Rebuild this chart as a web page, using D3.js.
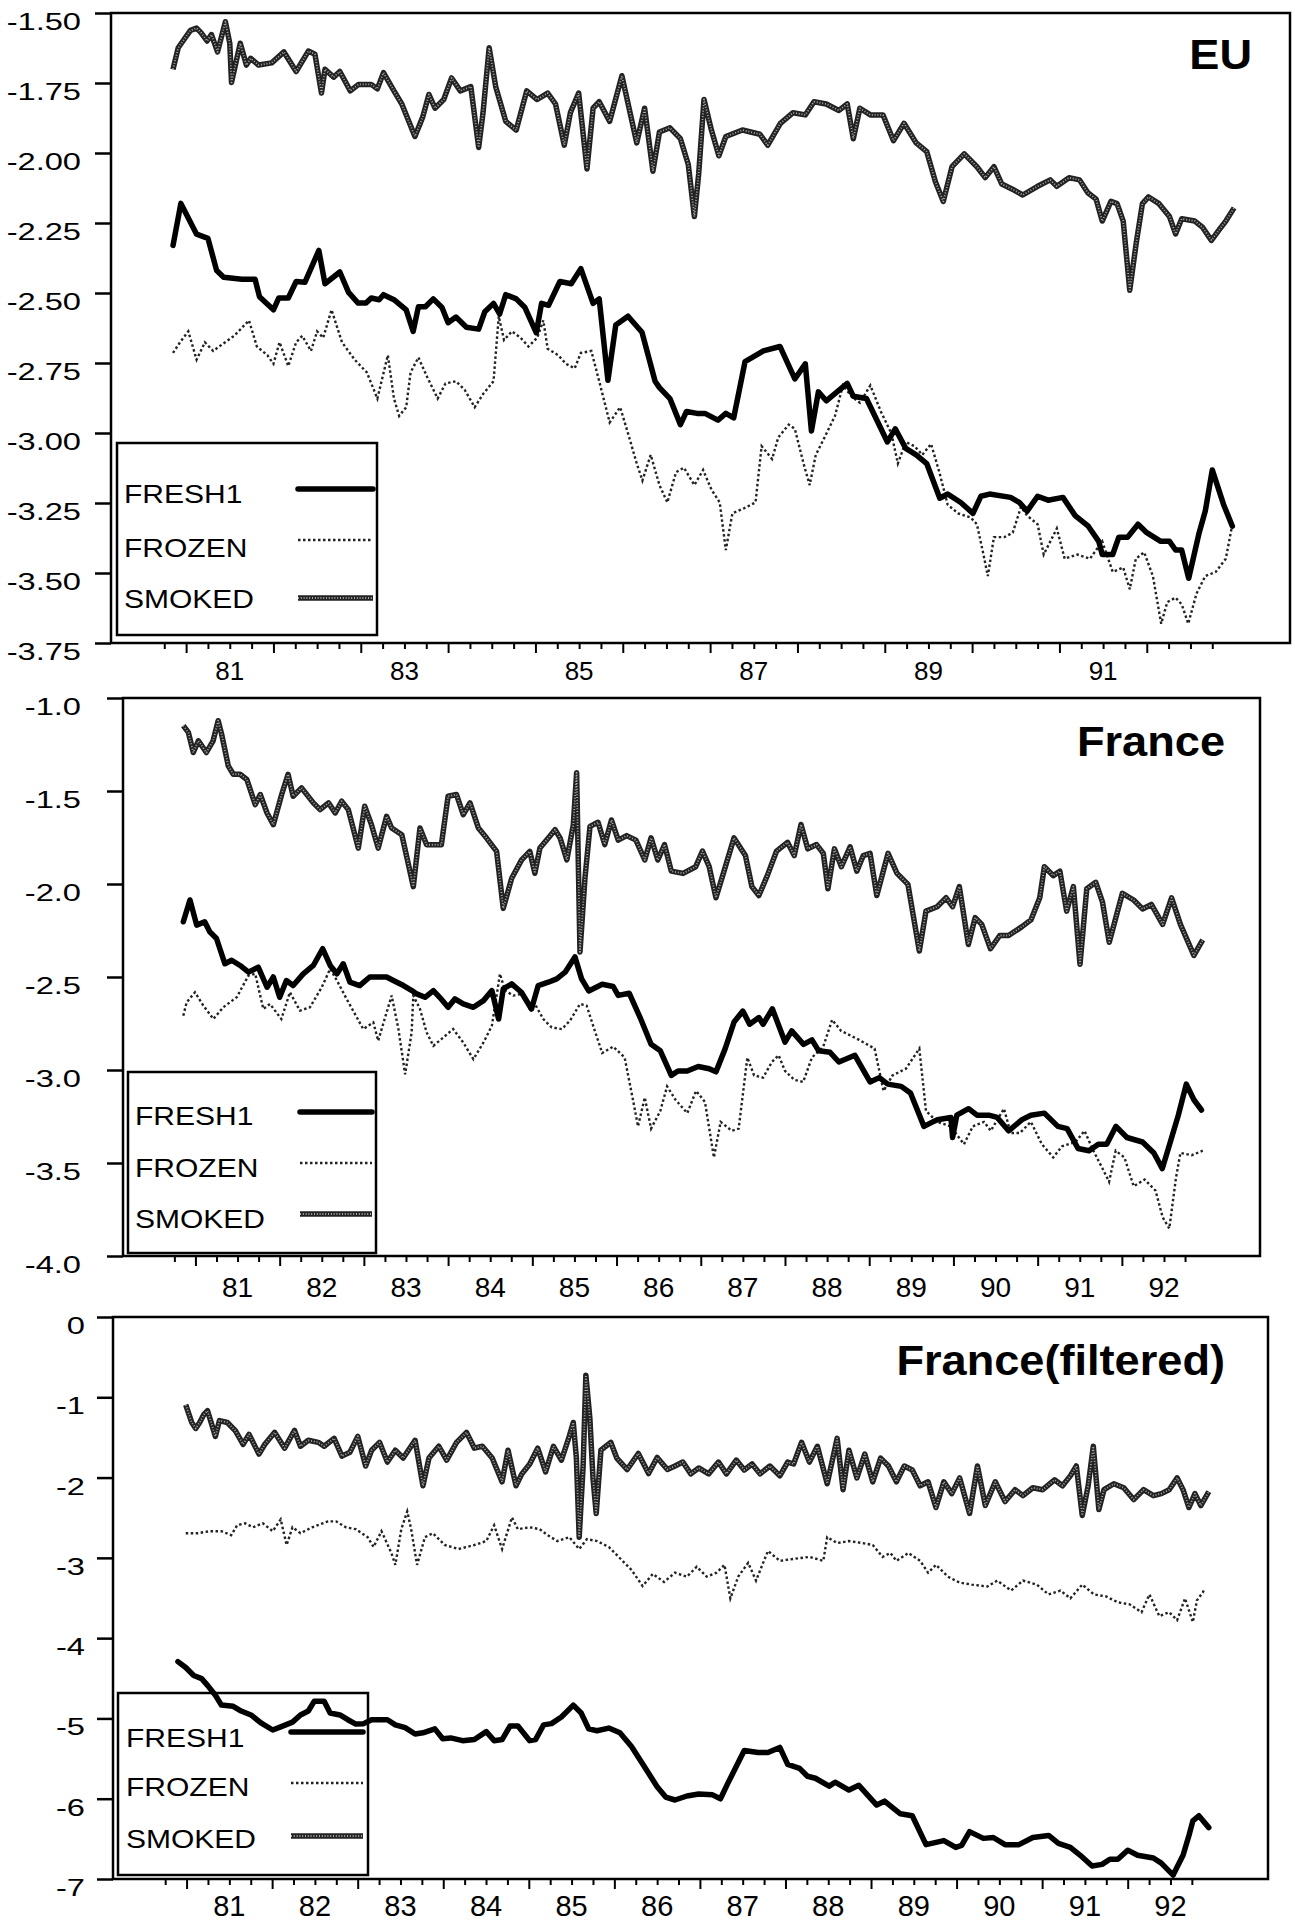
<!DOCTYPE html>
<html lang="en">
<head>
<meta charset="UTF-8">
<title>Fish price series</title>
<style>
  body { margin: 0; background: #fff; }
  svg { display: block; }
  text { font-family: "Liberation Sans", Arial, Helvetica, sans-serif; fill: #000; }
</style>
</head>
<body>
<div id="chart"></div>
<script src="https://d3js.org/d3.v7.min.js"></script>
<script>
// ---- data: [year (19xx), value] ----
const euFresh = [[80.85,-2.33],[80.94,-2.18],[81.12,-2.29],[81.25,-2.305],[81.35,-2.42],[81.43,-2.444],[81.64,-2.451],[81.79,-2.451],[81.84,-2.513],[82.0,-2.56],[82.06,-2.518],[82.17,-2.518],[82.26,-2.459],[82.36,-2.462],[82.52,-2.348],[82.59,-2.467],[82.76,-2.425],[82.86,-2.498],[82.97,-2.536],[83.06,-2.536],[83.12,-2.518],[83.21,-2.524],[83.26,-2.506],[83.38,-2.524],[83.52,-2.56],[83.6,-2.637],[83.66,-2.549],[83.74,-2.549],[83.83,-2.521],[83.93,-2.552],[84.0,-2.606],[84.09,-2.586],[84.21,-2.622],[84.35,-2.629],[84.42,-2.567],[84.52,-2.537],[84.59,-2.575],[84.66,-2.506],[84.78,-2.521],[84.88,-2.552],[85.01,-2.642],[85.07,-2.537],[85.15,-2.544],[85.28,-2.459],[85.41,-2.467],[85.52,-2.413],[85.66,-2.537],[85.73,-2.521],[85.83,-2.812],[85.92,-2.614],[86.06,-2.583],[86.22,-2.64],[86.37,-2.815],[86.42,-2.838],[86.54,-2.877],[86.66,-2.97],[86.73,-2.923],[86.85,-2.93],[86.94,-2.93],[87.09,-2.954],[87.18,-2.93],[87.27,-2.946],[87.4,-2.745],[87.61,-2.707],[87.8,-2.691],[87.97,-2.807],[88.09,-2.753],[88.16,-2.993],[88.24,-2.853],[88.33,-2.885],[88.57,-2.823],[88.64,-2.869],[88.79,-2.877],[89.03,-3.032],[89.12,-2.985],[89.24,-3.055],[89.36,-3.078],[89.48,-3.109],[89.63,-3.233],[89.72,-3.218],[89.87,-3.248],[90.01,-3.287],[90.1,-3.226],[90.2,-3.218],[90.44,-3.23],[90.54,-3.248],[90.63,-3.279],[90.75,-3.226],[90.87,-3.24],[91.04,-3.23],[91.18,-3.295],[91.33,-3.333],[91.45,-3.387],[91.49,-3.434],[91.61,-3.434],[91.68,-3.372],[91.78,-3.372],[91.9,-3.326],[92.0,-3.356],[92.16,-3.387],[92.26,-3.387],[92.33,-3.418],[92.4,-3.418],[92.48,-3.519],[92.6,-3.356],[92.67,-3.279],[92.75,-3.132],[92.88,-3.256],[92.98,-3.333]];

const euFrozen = [[80.85,-2.714],[80.93,-2.676],[81.025,-2.637],[81.12,-2.738],[81.215,-2.676],[81.31,-2.707],[81.38,-2.691],[81.55,-2.653],[81.72,-2.598],[81.81,-2.691],[81.93,-2.722],[82.0,-2.753],[82.07,-2.676],[82.17,-2.761],[82.26,-2.676],[82.33,-2.653],[82.43,-2.707],[82.5,-2.637],[82.57,-2.66],[82.665,-2.56],[82.785,-2.676],[82.93,-2.738],[83.07,-2.784],[83.19,-2.877],[83.31,-2.722],[83.38,-2.877],[83.44,-2.939],[83.52,-2.908],[83.57,-2.784],[83.66,-2.73],[83.76,-2.8],[83.88,-2.877],[83.97,-2.823],[84.09,-2.815],[84.19,-2.846],[84.305,-2.908],[84.4,-2.861],[84.52,-2.815],[84.58,-2.583],[84.64,-2.668],[84.73,-2.637],[84.83,-2.66],[84.92,-2.691],[85.02,-2.66],[85.09,-2.598],[85.14,-2.699],[85.26,-2.722],[85.35,-2.753],[85.45,-2.769],[85.52,-2.714],[85.64,-2.707],[85.73,-2.815],[85.85,-2.962],[85.97,-2.908],[86.06,-3.001],[86.16,-3.109],[86.225,-3.17],[86.32,-3.078],[86.42,-3.186],[86.51,-3.248],[86.61,-3.14],[86.7,-3.124],[86.82,-3.186],[86.92,-3.132],[87.015,-3.202],[87.11,-3.248],[87.18,-3.418],[87.255,-3.287],[87.375,-3.271],[87.52,-3.248],[87.59,-3.047],[87.71,-3.093],[87.78,-3.016],[87.9,-2.97],[87.97,-2.985],[88.07,-3.109],[88.14,-3.186],[88.21,-3.078],[88.31,-3.016],[88.43,-2.939],[88.52,-2.83],[88.62,-2.869],[88.715,-2.892],[88.835,-2.83],[88.955,-2.923],[89.075,-3.001],[89.15,-3.109],[89.24,-3.032],[89.34,-3.047],[89.43,-3.078],[89.53,-3.039],[89.625,-3.14],[89.72,-3.256],[89.84,-3.287],[89.985,-3.302],[90.055,-3.326],[90.13,-3.434],[90.18,-3.511],[90.25,-3.372],[90.37,-3.372],[90.465,-3.356],[90.56,-3.264],[90.63,-3.295],[90.75,-3.326],[90.82,-3.434],[90.97,-3.341],[91.06,-3.449],[91.205,-3.434],[91.35,-3.449],[91.49,-3.387],[91.61,-3.496],[91.73,-3.48],[91.805,-3.558],[91.875,-3.449],[91.97,-3.426],[92.07,-3.511],[92.165,-3.681],[92.235,-3.604],[92.33,-3.588],[92.4,-3.612],[92.475,-3.681],[92.57,-3.573],[92.67,-3.511],[92.79,-3.496],[92.905,-3.449],[92.98,-3.326]];

const euSmoked = [[80.85,-1.701],[80.91,-1.624],[80.98,-1.593],[81.05,-1.562],[81.12,-1.554],[81.17,-1.57],[81.24,-1.6],[81.29,-1.577],[81.36,-1.639],[81.45,-1.531],[81.5,-1.608],[81.52,-1.748],[81.62,-1.608],[81.69,-1.686],[81.74,-1.662],[81.83,-1.686],[81.98,-1.678],[82.12,-1.639],[82.26,-1.709],[82.4,-1.636],[82.475,-1.647],[82.55,-1.786],[82.59,-1.701],[82.69,-1.729],[82.76,-1.709],[82.88,-1.778],[82.975,-1.755],[83.12,-1.755],[83.19,-1.771],[83.26,-1.713],[83.38,-1.778],[83.47,-1.825],[83.62,-1.941],[83.71,-1.871],[83.78,-1.791],[83.85,-1.84],[83.95,-1.809],[84.04,-1.732],[84.14,-1.778],[84.26,-1.763],[84.35,-1.98],[84.4,-1.856],[84.47,-1.624],[84.545,-1.763],[84.66,-1.887],[84.78,-1.918],[84.9,-1.778],[85.02,-1.809],[85.14,-1.786],[85.23,-1.825],[85.33,-1.972],[85.4,-1.856],[85.495,-1.786],[85.59,-2.057],[85.66,-1.84],[85.73,-1.817],[85.85,-1.887],[85.99,-1.724],[86.16,-1.964],[86.25,-1.84],[86.345,-2.065],[86.42,-1.925],[86.54,-1.91],[86.66,-1.949],[86.75,-2.041],[86.82,-2.227],[86.87,-2.072],[86.93,-1.809],[87.015,-1.918],[87.1,-2.01],[87.18,-1.941],[87.37,-1.918],[87.57,-1.933],[87.66,-1.972],[87.805,-1.894],[87.95,-1.856],[88.09,-1.864],[88.19,-1.817],[88.33,-1.825],[88.475,-1.848],[88.57,-1.825],[88.64,-1.949],[88.715,-1.84],[88.835,-1.864],[88.98,-1.864],[89.1,-1.956],[89.22,-1.894],[89.36,-1.964],[89.48,-1.995],[89.58,-2.103],[89.67,-2.173],[89.77,-2.049],[89.91,-2.003],[90.055,-2.049],[90.15,-2.088],[90.25,-2.049],[90.34,-2.111],[90.49,-2.134],[90.58,-2.15],[90.75,-2.119],[90.895,-2.096],[90.97,-2.119],[91.11,-2.088],[91.23,-2.096],[91.325,-2.142],[91.42,-2.165],[91.49,-2.243],[91.59,-2.173],[91.66,-2.181],[91.73,-2.243],[91.805,-2.49],[91.88,-2.32],[91.95,-2.181],[92.02,-2.157],[92.14,-2.181],[92.26,-2.227],[92.33,-2.289],[92.4,-2.235],[92.55,-2.243],[92.64,-2.266],[92.74,-2.312],[92.83,-2.274],[92.905,-2.243],[93.0,-2.196]];

const frFresh = [[80.856,-2.203],[80.935,-2.086],[81.015,-2.221],[81.11,-2.203],[81.17,-2.257],[81.25,-2.293],[81.35,-2.429],[81.43,-2.41],[81.53,-2.438],[81.63,-2.474],[81.746,-2.447],[81.85,-2.555],[81.925,-2.5],[82.0,-2.609],[82.08,-2.519],[82.16,-2.546],[82.28,-2.483],[82.4,-2.438],[82.51,-2.348],[82.6,-2.438],[82.68,-2.483],[82.755,-2.429],[82.835,-2.528],[82.95,-2.546],[83.07,-2.5],[83.27,-2.5],[83.35,-2.519],[83.47,-2.546],[83.57,-2.573],[83.627,-2.591],[83.726,-2.609],[83.825,-2.573],[83.9,-2.609],[84.0,-2.663],[84.08,-2.618],[84.18,-2.645],[84.3,-2.663],[84.42,-2.627],[84.52,-2.573],[84.6,-2.726],[84.655,-2.564],[84.755,-2.537],[84.87,-2.582],[84.99,-2.672],[85.07,-2.546],[85.19,-2.528],[85.29,-2.51],[85.39,-2.474],[85.506,-2.392],[85.585,-2.51],[85.67,-2.575],[85.83,-2.539],[85.96,-2.551],[86.02,-2.599],[86.15,-2.587],[86.28,-2.718],[86.41,-2.862],[86.52,-2.897],[86.65,-3.029],[86.73,-3.005],[86.84,-3.005],[86.97,-2.981],[87.1,-2.993],[87.18,-3.01],[87.29,-2.885],[87.395,-2.742],[87.5,-2.683],[87.58,-2.754],[87.69,-2.718],[87.74,-2.754],[87.85,-2.671],[88.0,-2.85],[88.08,-2.79],[88.22,-2.862],[88.32,-2.838],[88.4,-2.897],[88.535,-2.905],[88.64,-2.957],[88.83,-2.921],[89.01,-3.064],[89.12,-3.041],[89.22,-3.076],[89.38,-3.088],[89.49,-3.124],[89.65,-3.303],[89.755,-3.279],[89.81,-3.267],[89.97,-3.255],[89.99,-3.363],[90.04,-3.243],[90.18,-3.208],[90.28,-3.243],[90.42,-3.243],[90.52,-3.255],[90.655,-3.327],[90.814,-3.267],[90.92,-3.243],[91.08,-3.232],[91.24,-3.303],[91.35,-3.315],[91.48,-3.422],[91.61,-3.434],[91.72,-3.399],[91.82,-3.399],[91.93,-3.303],[92.06,-3.363],[92.245,-3.387],[92.38,-3.446],[92.48,-3.53],[92.56,-3.41],[92.67,-3.243],[92.765,-3.076],[92.855,-3.16],[92.945,-3.215]];

const frFrozen = [[80.856,-2.708],[80.896,-2.636],[80.995,-2.582],[81.094,-2.654],[81.213,-2.726],[81.33,-2.663],[81.49,-2.609],[81.63,-2.492],[81.71,-2.483],[81.806,-2.672],[81.885,-2.645],[82.02,-2.726],[82.122,-2.582],[82.24,-2.681],[82.36,-2.663],[82.5,-2.555],[82.6,-2.456],[82.68,-2.519],[82.795,-2.618],[82.993,-2.78],[83.112,-2.744],[83.17,-2.843],[83.27,-2.69],[83.33,-2.6],[83.41,-2.78],[83.49,-3.023],[83.567,-2.798],[83.587,-2.6],[83.666,-2.672],[83.745,-2.798],[83.825,-2.87],[83.92,-2.834],[84.06,-2.78],[84.18,-2.852],[84.3,-2.942],[84.42,-2.852],[84.52,-2.762],[84.616,-2.483],[84.675,-2.573],[84.774,-2.6],[84.873,-2.591],[84.97,-2.672],[85.03,-2.645],[85.13,-2.726],[85.23,-2.771],[85.35,-2.78],[85.447,-2.735],[85.566,-2.645],[85.645,-2.654],[85.725,-2.766],[85.83,-2.909],[85.96,-2.874],[86.096,-2.933],[86.2,-3.172],[86.255,-3.303],[86.335,-3.148],[86.41,-3.315],[86.52,-3.22],[86.6,-3.088],[86.7,-3.16],[86.84,-3.232],[86.944,-3.112],[87.05,-3.172],[87.156,-3.47],[87.236,-3.279],[87.368,-3.327],[87.45,-3.315],[87.553,-2.933],[87.633,-3.029],[87.74,-3.041],[87.845,-2.957],[87.925,-2.921],[88.0,-3.005],[88.11,-3.053],[88.216,-3.064],[88.32,-2.933],[88.455,-2.874],[88.56,-2.73],[88.667,-2.79],[88.88,-2.838],[89.064,-2.885],[89.17,-3.112],[89.277,-3.029],[89.436,-2.993],[89.595,-2.885],[89.674,-3.22],[89.807,-3.279],[89.966,-3.303],[90.125,-3.399],[90.23,-3.303],[90.363,-3.279],[90.443,-3.327],[90.6,-3.208],[90.68,-3.339],[90.787,-3.339],[90.92,-3.279],[91.05,-3.399],[91.185,-3.47],[91.29,-3.41],[91.45,-3.387],[91.556,-3.327],[91.662,-3.434],[91.77,-3.53],[91.848,-3.601],[91.927,-3.434],[92.03,-3.47],[92.14,-3.625],[92.27,-3.589],[92.4,-3.649],[92.484,-3.792],[92.563,-3.852],[92.643,-3.578],[92.695,-3.446],[92.83,-3.458],[92.96,-3.434]];

const frSmoked = [[80.856,-1.149],[80.916,-1.185],[80.975,-1.293],[81.035,-1.23],[81.13,-1.293],[81.21,-1.23],[81.27,-1.122],[81.311,-1.194],[81.39,-1.365],[81.45,-1.41],[81.53,-1.41],[81.61,-1.438],[81.71,-1.573],[81.77,-1.519],[81.85,-1.618],[81.925,-1.681],[82.024,-1.519],[82.1,-1.41],[82.16,-1.528],[82.26,-1.483],[82.4,-1.564],[82.48,-1.6],[82.58,-1.564],[82.66,-1.618],[82.736,-1.555],[82.815,-1.6],[82.934,-1.807],[83.01,-1.582],[83.09,-1.681],[83.17,-1.807],[83.27,-1.636],[83.33,-1.699],[83.45,-1.735],[83.53,-1.897],[83.587,-2.014],[83.666,-1.699],[83.745,-1.789],[83.825,-1.789],[83.92,-1.789],[84.0,-1.528],[84.1,-1.519],[84.18,-1.627],[84.26,-1.564],[84.36,-1.699],[84.457,-1.753],[84.576,-1.825],[84.655,-2.131],[84.755,-1.969],[84.873,-1.87],[84.97,-1.825],[85.03,-1.942],[85.09,-1.807],[85.19,-1.753],[85.27,-1.708],[85.33,-1.753],[85.41,-1.87],[85.487,-1.681],[85.526,-1.402],[85.566,-2.365],[85.625,-1.969],[85.685,-1.69],[85.78,-1.668],[85.86,-1.788],[85.94,-1.656],[86.02,-1.764],[86.12,-1.74],[86.23,-1.764],[86.335,-1.871],[86.41,-1.752],[86.49,-1.871],[86.57,-1.788],[86.65,-1.931],[86.79,-1.943],[86.94,-1.907],[87.02,-1.823],[87.1,-1.907],[87.18,-2.074],[87.26,-1.955],[87.395,-1.752],[87.53,-1.847],[87.607,-2.014],[87.69,-2.062],[87.79,-1.955],[87.9,-1.823],[88.03,-1.776],[88.11,-1.847],[88.19,-1.68],[88.27,-1.811],[88.375,-1.788],[88.455,-1.835],[88.51,-2.026],[88.587,-1.811],[88.67,-1.907],[88.773,-1.8],[88.853,-1.931],[88.93,-1.847],[89.01,-1.835],[89.09,-2.062],[89.224,-1.835],[89.33,-1.943],[89.46,-2.002],[89.595,-2.36],[89.674,-2.146],[89.807,-2.122],[89.913,-2.074],[89.99,-2.122],[90.07,-2.014],[90.177,-2.325],[90.258,-2.181],[90.336,-2.217],[90.44,-2.348],[90.55,-2.277],[90.655,-2.277],[90.814,-2.229],[90.92,-2.193],[91.025,-2.074],[91.08,-1.907],[91.185,-1.955],[91.264,-1.931],[91.344,-2.146],[91.424,-2.014],[91.503,-2.432],[91.583,-2.026],[91.69,-1.991],[91.77,-2.098],[91.85,-2.313],[92.006,-2.05],[92.14,-2.086],[92.245,-2.134],[92.35,-2.11],[92.484,-2.217],[92.59,-2.074],[92.695,-2.217],[92.855,-2.384],[92.96,-2.301]];

const ffFresh = [[80.899,-4.293],[80.99,-4.366],[81.083,-4.465],[81.176,-4.504],[81.245,-4.588],[81.337,-4.711],[81.407,-4.834],[81.545,-4.849],[81.638,-4.908],[81.753,-4.957],[81.869,-5.056],[82.007,-5.144],[82.1,-5.105],[82.238,-5.046],[82.331,-4.957],[82.423,-4.908],[82.493,-4.785],[82.608,-4.785],[82.678,-4.933],[82.793,-4.957],[82.885,-5.016],[82.978,-5.07],[83.07,-5.065],[83.163,-5.016],[83.347,-5.016],[83.44,-5.08],[83.555,-5.115],[83.671,-5.194],[83.763,-5.179],[83.902,-5.13],[83.994,-5.253],[84.087,-5.243],[84.226,-5.277],[84.364,-5.263],[84.503,-5.164],[84.595,-5.277],[84.688,-5.263],[84.78,-5.095],[84.873,-5.095],[85.011,-5.277],[85.08,-5.263],[85.173,-5.08],[85.265,-5.065],[85.381,-4.982],[85.52,-4.834],[85.612,-4.933],[85.7,-5.13],[85.797,-5.154],[85.935,-5.12],[86.065,-5.179],[86.2,-5.35],[86.35,-5.6],[86.5,-5.85],[86.6,-5.98],[86.709,-6.016],[86.848,-5.966],[86.986,-5.942],[87.148,-5.952],[87.24,-6.001],[87.333,-5.794],[87.518,-5.4],[87.68,-5.425],[87.795,-5.425],[87.934,-5.361],[88.026,-5.572],[88.165,-5.622],[88.257,-5.72],[88.35,-5.745],[88.511,-5.843],[88.58,-5.794],[88.742,-5.892],[88.858,-5.833],[89.066,-6.079],[89.158,-6.03],[89.343,-6.188],[89.482,-6.212],[89.643,-6.572],[89.851,-6.522],[89.99,-6.606],[90.059,-6.582],[90.152,-6.41],[90.313,-6.494],[90.429,-6.483],[90.567,-6.572],[90.729,-6.572],[90.891,-6.483],[91.076,-6.458],[91.191,-6.557],[91.33,-6.606],[91.446,-6.705],[91.584,-6.838],[91.7,-6.818],[91.792,-6.754],[91.885,-6.754],[92.0,-6.641],[92.116,-6.705],[92.3,-6.739],[92.393,-6.803],[92.531,-6.951],[92.647,-6.705],[92.716,-6.458],[92.762,-6.276],[92.832,-6.212],[92.948,-6.36]];

const ffFrozen = [[80.99,-2.693],[81.13,-2.693],[81.268,-2.668],[81.407,-2.668],[81.522,-2.717],[81.591,-2.594],[81.684,-2.57],[81.776,-2.619],[81.892,-2.57],[82.007,-2.668],[82.1,-2.521],[82.169,-2.84],[82.238,-2.619],[82.331,-2.693],[82.469,-2.619],[82.654,-2.545],[82.747,-2.545],[82.862,-2.619],[82.978,-2.643],[83.116,-2.742],[83.186,-2.865],[83.278,-2.668],[83.394,-2.939],[83.44,-3.087],[83.51,-2.643],[83.579,-2.422],[83.625,-2.643],[83.694,-3.087],[83.786,-2.742],[83.879,-2.693],[84.017,-2.84],[84.18,-2.89],[84.364,-2.84],[84.503,-2.791],[84.595,-2.594],[84.688,-2.89],[84.803,-2.496],[84.873,-2.643],[85.011,-2.619],[85.127,-2.643],[85.219,-2.717],[85.334,-2.791],[85.473,-2.742],[85.589,-2.89],[85.68,-2.767],[85.797,-2.791],[85.935,-2.865],[86.05,-2.988],[86.2,-3.15],[86.33,-3.35],[86.45,-3.2],[86.58,-3.3],[86.709,-3.185],[86.848,-3.234],[86.963,-3.111],[87.079,-3.234],[87.194,-3.185],[87.287,-3.087],[87.356,-3.505],[87.448,-3.234],[87.564,-3.062],[87.656,-3.283],[87.795,-2.914],[87.934,-3.037],[88.095,-3.013],[88.28,-2.988],[88.442,-3.037],[88.488,-2.742],[88.604,-2.816],[88.742,-2.791],[88.904,-2.816],[89.02,-2.84],[89.135,-2.988],[89.227,-2.939],[89.297,-3.037],[89.436,-2.939],[89.574,-3.037],[89.667,-3.185],[89.759,-3.087],[89.898,-3.234],[90.036,-3.308],[90.175,-3.333],[90.36,-3.357],[90.475,-3.283],[90.637,-3.407],[90.776,-3.283],[90.937,-3.333],[91.076,-3.456],[91.214,-3.407],[91.33,-3.505],[91.469,-3.333],[91.607,-3.456],[91.746,-3.48],[91.885,-3.554],[92.023,-3.579],[92.162,-3.677],[92.254,-3.456],[92.37,-3.726],[92.485,-3.677],[92.578,-3.776],[92.67,-3.505],[92.762,-3.8],[92.809,-3.53],[92.878,-3.431],[92.9,-3.382]];

const ffSmoked = [[80.99,-1.093],[81.06,-1.314],[81.107,-1.388],[81.153,-1.314],[81.2,-1.216],[81.245,-1.167],[81.337,-1.487],[81.384,-1.29],[81.476,-1.314],[81.568,-1.413],[81.661,-1.585],[81.73,-1.462],[81.846,-1.708],[81.915,-1.585],[82.03,-1.437],[82.146,-1.634],[82.262,-1.413],[82.331,-1.61],[82.423,-1.536],[82.539,-1.561],[82.608,-1.61],[82.724,-1.511],[82.816,-1.733],[82.909,-1.684],[83.001,-1.487],[83.093,-1.856],[83.163,-1.659],[83.255,-1.561],[83.347,-1.807],[83.44,-1.659],[83.532,-1.757],[83.671,-1.536],[83.763,-2.102],[83.833,-1.757],[83.948,-1.61],[84.04,-1.782],[84.156,-1.561],[84.272,-1.437],[84.364,-1.634],[84.457,-1.61],[84.572,-1.757],[84.688,-2.053],[84.757,-1.659],[84.85,-2.102],[84.919,-1.954],[85.011,-1.831],[85.104,-1.634],[85.196,-1.93],[85.288,-1.61],[85.381,-1.782],[85.473,-1.487],[85.52,-1.314],[85.556,-1.757],[85.589,-2.742],[85.635,-1.856],[85.667,-0.724],[85.714,-1.265],[85.75,-2.004],[85.788,-2.447],[85.843,-1.659],[85.958,-1.561],[86.028,-1.757],[86.15,-1.9],[86.28,-1.7],[86.4,-1.95],[86.5,-1.75],[86.62,-1.9],[86.709,-1.856],[86.8,-1.807],[86.894,-1.954],[86.986,-1.88],[87.102,-1.954],[87.217,-1.807],[87.31,-1.954],[87.425,-1.782],[87.518,-1.905],[87.61,-1.831],[87.703,-1.954],[87.818,-1.856],[87.934,-1.979],[88.026,-1.807],[88.095,-1.831],[88.188,-1.561],[88.28,-1.807],[88.373,-1.61],[88.488,-2.077],[88.604,-1.511],[88.673,-2.151],[88.742,-1.659],[88.835,-2.004],[88.927,-1.708],[89.02,-2.053],[89.112,-1.757],[89.204,-1.856],[89.297,-2.053],[89.389,-1.856],[89.482,-1.905],[89.574,-2.102],[89.667,-2.053],[89.759,-2.373],[89.851,-2.053],[89.944,-2.2],[90.036,-2.004],[90.152,-2.447],[90.244,-1.856],[90.336,-2.348],[90.452,-2.053],[90.567,-2.299],[90.683,-2.151],[90.776,-2.225],[90.891,-2.127],[91.007,-2.151],[91.145,-2.028],[91.238,-2.102],[91.33,-1.979],[91.4,-1.856],[91.469,-2.472],[91.538,-2.102],[91.598,-1.61],[91.663,-2.397],[91.723,-2.151],[91.838,-2.077],[91.954,-2.127],[92.07,-2.274],[92.185,-2.151],[92.3,-2.225],[92.393,-2.2],[92.485,-2.151],[92.578,-2.004],[92.647,-2.151],[92.716,-2.373],[92.786,-2.2],[92.855,-2.348],[92.948,-2.176]];

// axis ticks / labels
const euYTicks = [-1.5, -1.75, -2, -2.25, -2.5, -2.75, -3, -3.25, -3.5, -3.75];
const frYTicks = [-1, -1.5, -2, -2.5, -3, -3.5, -4];
const ffYTicks = [0, -1, -2, -3, -4, -5, -6, -7];
const euYearLabels = [81, 83, 85, 87, 89, 91];
const allYearLabels = [81, 82, 83, 84, 85, 86, 87, 88, 89, 90, 91, 92];
const seriesNames = ["FRESH1", "FROZEN", "SMOKED"];

// ---- layout ----
const width = 1295, height = 1921;
const xDomain = [80.14, 93.64];
const quarterTicks = d3.range(80.75, 92.76, 0.25);

const panels = [
    { title: "EU", titleX: 1252, titleY: 69,
      left: 111, right: 1290, top: 13, bottom: 643,
      yDomain: [-3.75, -1.5], yTicks: euYTicks, yFormat: d => d.toFixed(2), yLabelX: 81,
      years: euYearLabels, yearSize: 26, yearDy: 37,
      data: [euFresh, euFrozen, euSmoked],
      legend: { x0: 117, x1: 377, y0: 443, y1: 635, textX: 124, base: [503, 557, 608], lx0: 298, lx1: 373, ly: [489, 540, 598] } },
    { title: "France", titleX: 1225, titleY: 756,
      left: 123, right: 1260, top: 698, bottom: 1256,
      yDomain: [-4, -1], yTicks: frYTicks, yFormat: d => d.toFixed(1), yLabelX: 81,
      years: allYearLabels, yearSize: 28, yearDy: 41,
      data: [frFresh, frFrozen, frSmoked],
      legend: { x0: 128, x1: 376, y0: 1072, y1: 1253, textX: 135, base: [1125, 1177, 1228], lx0: 300, lx1: 372, ly: [1112, 1163, 1214] } },
    { title: "France(filtered)", titleX: 1225, titleY: 1375,
      left: 113, right: 1268, top: 1317, bottom: 1879,
      yDomain: [-7, 0], yTicks: ffYTicks, yFormat: d => String(d), yLabelX: 85,
      years: allYearLabels, yearSize: 29, yearDy: 37,
      data: [ffFresh, ffFrozen, ffSmoked],
      legend: { x0: 118, x1: 368, y0: 1693, y1: 1875, textX: 126, base: [1747, 1796, 1848], lx0: 291, lx1: 363, ly: [1732, 1783, 1836] } }
];

const svg = d3.select("#chart")
    .append("svg")
    .attr("width", width)
    .attr("height", height);

// draws one series in the style of its kind (0 fresh, 1 frozen, 2 smoked)
function drawStyled(g, kind, d) {
    if (kind === 0) {
        g.append("path").attr("d", d).attr("fill", "none")
            .attr("stroke", "#000").attr("stroke-width", 5.5)
            .attr("stroke-linejoin", "round").attr("stroke-linecap", "round");
    } else if (kind === 1) {
        g.append("path").attr("d", d).attr("fill", "none")
            .attr("stroke", "#222").attr("stroke-width", 2.4)
            .attr("stroke-dasharray", "2.5,2.5");
    } else {
        g.append("path").attr("d", d).attr("fill", "none")
            .attr("stroke", "#222").attr("stroke-width", 5.5)
            .attr("stroke-linejoin", "round");
        g.append("path").attr("d", d).attr("fill", "none")
            .attr("stroke", "#aaa").attr("stroke-width", 1.8)
            .attr("stroke-dasharray", "1,1.8").attr("stroke-linejoin", "round");
    }
}

panels.forEach(p => {
    const x = d3.scaleLinear().domain(xDomain).range([p.left, p.right]);
    const y = d3.scaleLinear().domain(p.yDomain).range([p.bottom, p.top]);
    const g = svg.append("g");

    // y ticks
    g.append("g")
        .attr("transform", `translate(${p.left},0)`)
        .call(d3.axisLeft(y).tickValues(p.yTicks).tickSize(16).tickSizeOuter(0).tickFormat(""))
        .call(a => a.select(".domain").remove())
        .selectAll("line").attr("stroke", "#000").attr("stroke-width", 2.5);

    g.selectAll(".ylab")
        .data(p.yTicks)
        .enter()
        .append("text")
        .attr("class", "ylab")
        .attr("transform", d => `translate(${p.yLabelX},${y(d) + 17}) scale(1.36,1)`)
        .attr("text-anchor", "end")
        .style("font-size", "24px")
        .text(p.yFormat);

    // x ticks, quarterly, longer at each new year
    g.append("g")
        .attr("transform", `translate(0,${p.bottom})`)
        .call(d3.axisBottom(x).tickValues(quarterTicks).tickSizeOuter(0).tickFormat(""))
        .call(a => a.select(".domain").remove())
        .selectAll("line")
        .attr("y2", d => Math.abs(d - Math.round(d)) < 1e-6 ? 10 : 6)
        .attr("stroke", "#000").attr("stroke-width", 2);

    g.selectAll(".xlab")
        .data(p.years)
        .enter()
        .append("text")
        .attr("class", "xlab")
        .attr("x", d => x(d + 0.5))
        .attr("y", p.bottom + p.yearDy)
        .attr("text-anchor", "middle")
        .style("font-size", p.yearSize + "px")
        .text(d => d);

    // frame
    g.append("rect")
        .attr("x", p.left).attr("y", p.top)
        .attr("width", p.right - p.left).attr("height", p.bottom - p.top)
        .attr("fill", "none").attr("stroke", "#000").attr("stroke-width", 2.5);

    // title
    g.append("text")
        .attr("transform", `translate(${p.titleX},${p.titleY}) scale(1.05,1)`)
        .attr("text-anchor", "end")
        .style("font-size", "43px").style("font-weight", "bold")
        .text(p.title);

    // legend
    const L = p.legend;
    g.append("rect")
        .attr("x", L.x0).attr("y", L.y0)
        .attr("width", L.x1 - L.x0).attr("height", L.y1 - L.y0)
        .attr("fill", "none").attr("stroke", "#000").attr("stroke-width", 2.5);
    seriesNames.forEach((name, i) => {
        g.append("text")
            .attr("transform", `translate(${L.textX},${L.base[i]}) scale(1.2,1)`)
            .style("font-size", "25px")
            .text(name);
        drawStyled(g, i, `M${L.lx0},${L.ly[i]}H${L.lx1}`);
    });

    // series
    const line = d3.line().x(d => x(d[0])).y(d => y(d[1]));
    [1, 2, 0].forEach(i => drawStyled(g, i, line(p.data[i])));
});
</script>
</body>
</html>
